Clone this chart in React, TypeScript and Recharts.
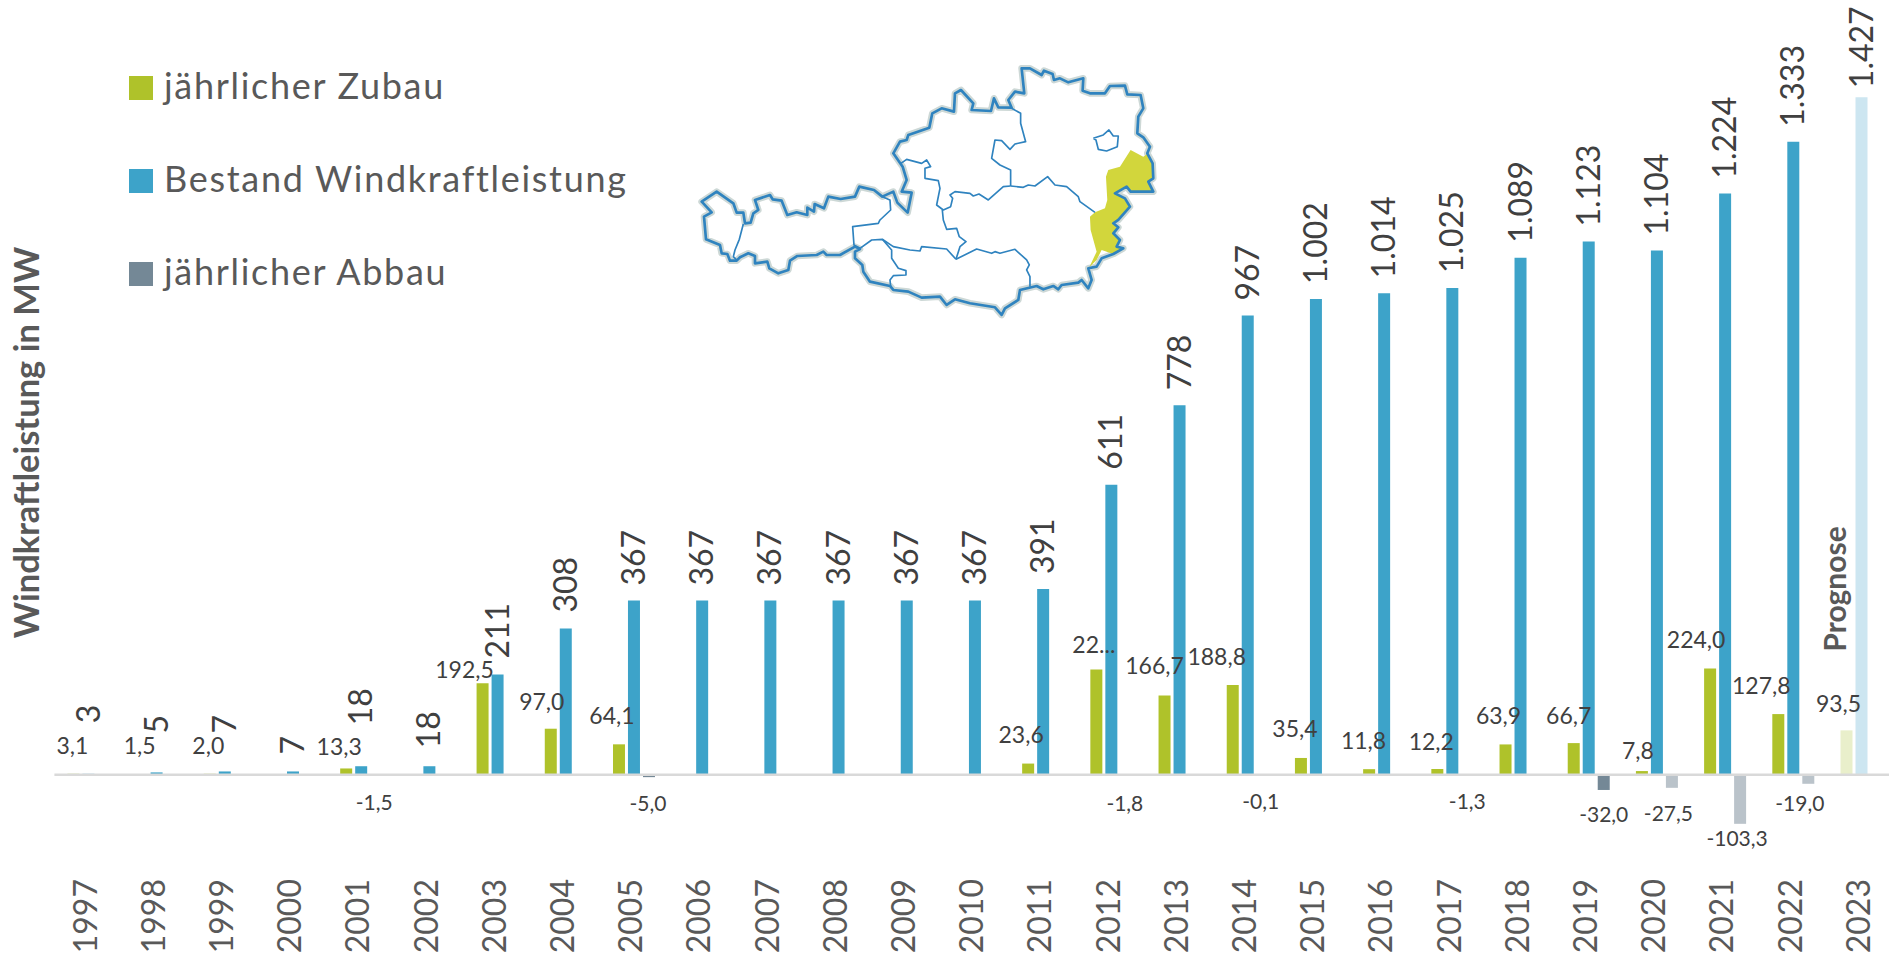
import React from "react";
import { BarChart, Bar, XAxis, YAxis, Legend, Cell, LabelList, ReferenceLine } from "recharts";

const years = ["1997","1998","1999","2000","2001","2002","2003","2004","2005","2006","2007","2008","2009","2010","2011","2012","2013","2014","2015","2016","2017","2018","2019","2020","2021","2022","2023"];
const zubau = [3.1,1.5,2.0,null,13.3,null,192.5,97.0,64.1,null,null,null,null,null,23.6,221.8,166.7,188.8,35.4,11.8,12.2,63.9,66.7,7.8,224.0,127.8,93.5];
const bestand = [3,5,7,7,18,18,211,308,367,367,367,367,367,367,391,611,778,967,1002,1014,1025,1089,1123,1104,1224,1333,1427];
const abbau = [null,null,null,null,-1.5,null,null,null,-5.0,null,null,null,null,null,null,-1.8,null,-0.1,null,null,-1.3,null,-32.0,-27.5,-103.3,-19.0,null];

const zubauLabelDx = [-1,-2,-1.5,0,-7,0,-18,-9,-7,0,0,0,0,0,-7,-2.5,-10,-16,-6,-5.6,-6,-7,-5,-4,-14,-17,-8];
const zubauLabelDy = [-25,-26,-26,0,-19,0,-11,-25,-26,0,0,0,0,0,-26.5,-22,-27,-26,-27,-26,-24.5,-26.5,-25,-18,-26,-26,-24];
const abbauLabelDx = [0,0,0,0,-2,0,0,0,-1,0,0,0,0,0,0,-1.5,0,-2,0,0,0,0,0,-3.5,-3,-8.5,0];
const abbauLabelDy = [0,0,0,0,29,0,0,0,29,0,0,0,0,0,0,30,0,28.5,0,0,28,0,27,27.7,17,22,0];
const bestandLabelGap = [50,39,38,17,41,18,16,16,15,15,15,15,15,15,15,15,15,15,15,15,15,15,15,15,15,15,9];

const GREEN = "#AFC22A";
const BLUE = "#3DA3C9";
const SLATE = "#748896";
const FAINT_GREEN = "#E9EFCB";
const FAINT_BLUE = "#CDE6F1";
const FAINT_SLATE = "#BAC3CA";
const FONT = "Lato, 'Open Sans', sans-serif";

const chartData = years.map((year, i) => ({ year, zubau: zubau[i], bestand: bestand[i], abbau: abbau[i] }));

const fmtDec = (v: number) => v.toFixed(1).replace(".", ",");
const fmtThousand = (v: number) => (v >= 1000 ? `${Math.floor(v / 1000)}.${String(v % 1000).padStart(3, "0")}` : String(v));

const ZubauLabel = (p: any) => {
  const { x, y, width, height, value } = p;
  if (value == null) return null;
  const i = zubau.indexOf(value);
  const top = Math.min(y, y + height);
  const text = years[i] === "2012" ? "22..." : fmtDec(value);
  return (
    <text x={x + width / 2 + zubauLabelDx[i]} y={top + zubauLabelDy[i]} textAnchor="middle" dominantBaseline="middle" fontFamily={FONT} fontSize={23} fill="#404040">
      {text}
    </text>
  );
};
const AbbauLabel = (p: any) => {
  const { x, y, width, height, value } = p;
  if (value == null) return null;
  const i = abbau.indexOf(value);
  const bottom = Math.max(y, y + height);
  return (
    <text x={x + width / 2 + abbauLabelDx[i]} y={bottom + abbauLabelDy[i]} textAnchor="middle" dominantBaseline="middle" fontFamily={FONT} fontSize={21} fill="#404040">
      {fmtDec(value)}
    </text>
  );
};
const BestandLabel = (p: any) => {
  const { x, y, width, height, index, value } = p;
  if (value == null) return null;
  const top = Math.min(y, y + height);
  const cx = x + width / 2 + 3;
  const cy = top - bestandLabelGap[index];
  return (
    <text transform={`rotate(-90 ${cx} ${cy})`} x={cx} y={cy} textAnchor="start" dominantBaseline="middle" fontFamily={FONT} fontSize={32} fill="#404040">
      {fmtThousand(value)}
    </text>
  );
};
const YearTick = (p: any) => {
  const { x, y, payload } = p;
  const ay = y - 1;
  return (
    <text transform={`rotate(-90 ${x} ${ay})`} x={x} y={ay} textAnchor="end" dominantBaseline="middle" fontFamily={FONT} fontSize={32} fill="#595959">
      {payload.value}
    </text>
  );
};
const LegendBox = ({ payload }: any) => (
  <div style={{ fontFamily: FONT }}>
    {(payload || []).map((e: any) => (
      <div key={e.value} style={{ display: "flex", alignItems: "center", height: 93, whiteSpace: "nowrap" }}>
        <span style={{ width: 24, height: 24, background: e.color, display: "inline-block", marginRight: 11 }} />
        <span style={{ fontSize: 36, color: "#595959", letterSpacing: 1.7, position: "relative", top: -3 }}>{e.value}</span>
      </div>
    ))}
  </div>
);

const outline = "65,455 110,425 160,460 170,488 190,488 195,520 212,518 220,490 235,480 225,450 270,435 278,448 305,452 322,495 350,487 382,495 382,473 402,485 404,462 432,475 445,440 482,447 525,440 538,410 582,420 607,440 640,425 652,458 683,488 695,428 665,425 680,390 668,350 640,310 660,275 680,270 685,255 748,233 757,190 785,175 822,185 825,130 843,120 880,160 875,180 933,183 942,145 955,172 995,173 985,150 1005,125 1033,130 1025,55 1050,55 1085,75 1092,62 1118,72 1122,90 1140,85 1165,97 1210,85 1208,122 1230,130 1275,130 1290,108 1335,107 1342,133 1382,135 1390,175 1375,200 1372,250 1390,262 1410,290 1402,310 1418,340 1420,385 1405,395 1420,425 1352,425 1340,410 1305,430 1335,445 1350,470 1315,510 1300,520 1315,532 1300,550 1320,570 1310,590 1330,595 1300,612 1265,625 1250,650 1225,655 1235,690 1225,715 1205,690 1195,698 1145,705 1135,718 1120,708 1090,718 1070,708 1020,720 1015,750 975,775 965,795 945,772 870,760 825,748 800,765 780,740 725,743 685,725 640,720 630,708 570,695 550,665 547,645 525,625 525,605 540,597 525,590 480,615 440,615 430,605 410,615 352,618 330,632 325,660 295,670 268,655 262,635 225,640 225,618 205,610 180,622 170,632 150,632 142,612 125,610 120,585 78,568 72,500 95,487 70,460";
const burgenland = "1352,300 1390,320 1405,310 1418,340 1420,385 1405,395 1420,425 1352,425 1340,410 1305,430 1335,445 1350,470 1315,510 1300,520 1315,532 1300,550 1320,570 1310,590 1330,595 1300,612 1265,600 1250,630 1228,652 1250,605 1232,540 1230,500 1245,487 1275,475 1282,450 1278,380 1285,360 1320,350";
const innerBorders = [
  "190,522 178,568 165,600 160,620 172,632",
  "607,440 630,450 632,480 600,510 595,520 518,530 522,585 540,595",
  "540,595 575,570 607,568 635,600 635,625 655,655 678,662 678,675 640,677 630,690 632,708",
  "607,568 640,590 690,600 720,603 725,590 800,597 828,628",
  "828,628 890,597 935,610 945,605 960,610 1005,598 1040,630 1048,645 1040,660 1050,680 1050,710",
  "828,628 840,590 858,575 838,560 830,535 800,538 790,510 787,480",
  "663,340 680,328 725,340 740,330 752,350 735,355 735,385 775,392 780,415 770,465 790,480 812,470 818,445 810,435 825,425 870,430 880,438 897,432 925,450 970,410 992,408",
  "995,175 1022,190 1022,220 1037,275 1005,282 990,298 965,272 945,270 935,325 960,345 992,360 992,408",
  "992,408 1030,412 1045,405 1065,408 1103,380 1125,405 1160,410 1195,440 1200,455 1245,487",
  "1240,265 1270,255 1287,240 1300,258 1315,258 1312,290 1280,303 1255,298 1248,270 1240,265",
];

const AustriaMap = () => (
  <g transform="translate(680 50) scale(0.3333)">
    <polygon points={outline} fill="#fff" stroke="#CDD8D6" strokeWidth={20} strokeLinejoin="round" />
    <polygon points={burgenland} fill="#D2D63C" stroke="none" />
    {innerBorders.map((b) => (
      <polyline key={b} points={b} fill="none" stroke="#2F83BF" strokeWidth={5} strokeLinejoin="round" />
    ))}
    <polygon points={outline} fill="none" stroke="#2F83BF" strokeWidth={8} strokeLinejoin="round" />
  </g>
);

export default function App() {
  return (
    <div style={{ position: "absolute", left: 0, top: 0, width: 1889, height: 954, overflow: "hidden", background: "#fff" }}>
      <BarChart width={1900} height={954} data={chartData} margin={{ top: 15, right: 4.3, bottom: 0, left: 0 }} barSize={12} barGap={3}>
        <XAxis dataKey="year" height={108} axisLine={false} tickLine={false} tick={<YearTick />} interval={0} tickMargin={28} />
        <YAxis width={54.4} domain={[-150, 1600]} tick={false} axisLine={false} tickLine={false}
          label={{ value: "Windkraftleistung in MW", angle: -90, position: "center", dy: 12, fontFamily: FONT, fontSize: 34.5, fontWeight: 700, fill: "#595959" }} />
        <Legend layout="vertical" align="center" verticalAlign="middle" itemSorter={null} content={<LegendBox />} wrapperStyle={{ left: 129, top: 41, width: 600 }} />
        <Bar dataKey="zubau" name="jährlicher Zubau" fill={GREEN} isAnimationActive={false}>
          {years.map((y) => <Cell key={y} fill={y === "1997" || y === "2023" ? FAINT_GREEN : GREEN} />)}
          <LabelList dataKey="zubau" content={<ZubauLabel />} />
        </Bar>
        <Bar dataKey="bestand" name="Bestand Windkraftleistung" fill={BLUE} isAnimationActive={false}>
          {years.map((y) => <Cell key={y} fill={y === "1997" || y === "2023" ? FAINT_BLUE : BLUE} />)}
          <LabelList dataKey="bestand" content={<BestandLabel />} />
        </Bar>
        <Bar dataKey="abbau" name="jährlicher Abbau" fill={SLATE} isAnimationActive={false}>
          {years.map((y) => <Cell key={y} fill={["2020", "2021", "2022"].includes(y) ? FAINT_SLATE : SLATE} />)}
          <LabelList dataKey="abbau" content={<AbbauLabel />} />
        </Bar>
        <ReferenceLine y={0} stroke="#D9D9D9" strokeWidth={2.5} />
      </BarChart>
      <svg width={1889} height={954} style={{ position: "absolute", left: 0, top: 0, pointerEvents: "none" }}>
        <AustriaMap />
        <text transform="rotate(-90 1838 589)" x={1838} y={589} textAnchor="middle" dominantBaseline="middle" fontFamily={FONT} fontSize={30} fontWeight={700} fill="#595959">Prognose</text>
      </svg>
    </div>
  );
}
